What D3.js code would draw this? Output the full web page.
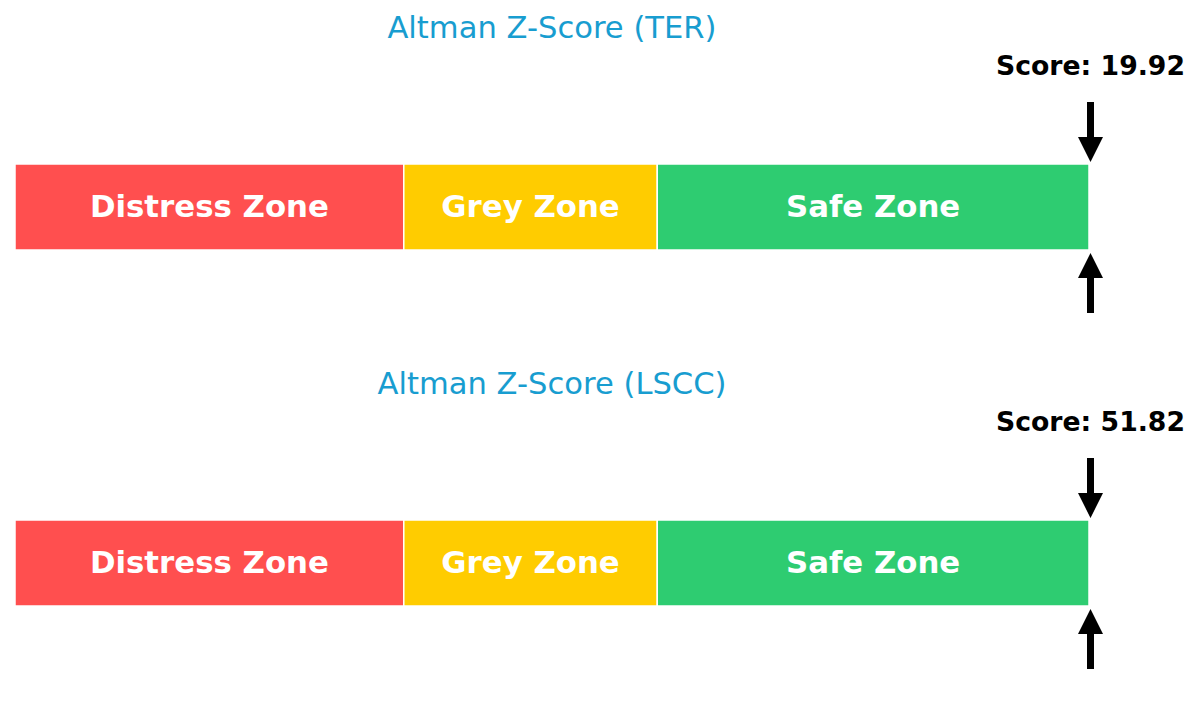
<!DOCTYPE html>
<html>
<head>
<meta charset="utf-8">
<script src="https://cdn.jsdelivr.net/npm/d3@7"></script>
<style>
  html, body { margin: 0; padding: 0; background: #fff; }
  svg { display: block; font-family: "DejaVu Sans", sans-serif; }
</style>
</head>
<body>
<div id="chart"></div>
<script>
// data
const companies = ["TER", "LSCC"];
const scores = [19.92, 51.82];
const zoneNames = ["Distress Zone", "Grey Zone", "Safe Zone"];
const zoneBounds = [0, 1.81, 2.99, 5];
const zoneColors = ["#ff4f4f", "#ffcc00", "#2ecc71"];

const width = 1200, height = 712;
const svg = d3.select("#chart").append("svg")
  .attr("width", width).attr("height", height);

const x = d3.scaleLinear().domain([0, 5]).range([15, 1089]);
const panel = d3.scaleBand().domain(companies).range([0, height]);

// vertical layout inside a panel
const barTop = 164, barH = 86;

const zones = zoneNames.map((name, i) => ({
  name, x0: zoneBounds[i], x1: zoneBounds[i + 1], color: zoneColors[i]
}));

const panels = svg.selectAll(".panel")
  .data(companies.map((c, i) => ({company: c, score: scores[i]})))
  .enter().append("g")
  .attr("class", "panel")
  .attr("transform", d => `translate(0,${panel(d.company)})`);

panels.append("text")
  .attr("x", (x(0) + x(5)) / 2)
  .attr("y", 37.5)
  .attr("text-anchor", "middle")
  .attr("font-size", 30.6)
  .attr("fill", "#189dd0")
  .text(d => `Altman Z-Score (${d.company})`);

panels.selectAll(".zone")
  .data(zones)
  .enter().append("rect")
  .attr("class", "zone")
  .attr("x", d => x(d.x0))
  .attr("y", barTop)
  .attr("width", d => x(d.x1) - x(d.x0))
  .attr("height", barH)
  .attr("fill", d => d.color)
  .attr("stroke", "#fff")
  .attr("stroke-width", 1.5);

panels.selectAll(".zlabel")
  .data(zones)
  .enter().append("text")
  .attr("class", "zlabel")
  .attr("x", d => (x(d.x0) + x(d.x1)) / 2)
  .attr("y", barTop + barH / 2 + 10)
  .attr("text-anchor", "middle")
  .attr("font-size", 30.8)
  .attr("font-weight", "bold")
  .attr("fill", "#fff")
  .text(d => d.name);

// marker clipped to the end of the scale
const mx = d => x(Math.min(d.score, zoneBounds[zoneBounds.length - 1])) + 1.5;
const shaft = 3.5, head = 12.5, headLen = 25;

function arrow(cx, tail, tip) {
  const dir = Math.sign(tip - tail);
  const hb = tip - dir * headLen;
  return `M${cx - shaft},${tail}L${cx + shaft},${tail}L${cx + shaft},${hb}` +
    `L${cx + head},${hb}L${cx},${tip}L${cx - head},${hb}L${cx - shaft},${hb}Z`;
}

panels.append("path")
  .attr("d", d => arrow(mx(d), barTop - 62, barTop - 2))
  .attr("fill", "#000");

panels.append("path")
  .attr("d", d => arrow(mx(d), barTop + barH + 63, barTop + barH + 3))
  .attr("fill", "#000");

panels.append("text")
  .attr("x", d => mx(d))
  .attr("y", 75)
  .attr("text-anchor", "middle")
  .attr("font-size", 26.7)
  .attr("font-weight", "bold")
  .attr("fill", "#000")
  .text(d => `Score: ${d.score.toFixed(2)}`);
</script>
</body>
</html>
